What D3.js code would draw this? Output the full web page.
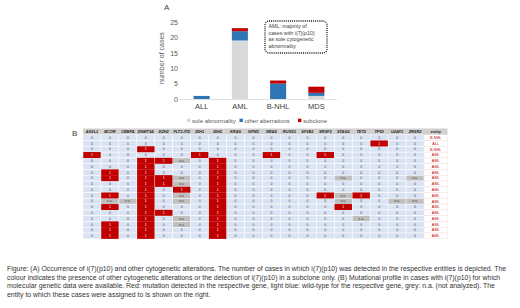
<!DOCTYPE html>
<html>
<head>
<meta charset="utf-8">
<script src="https://cdn.jsdelivr.net/npm/d3@7"></script>
<style>
  body { margin: 0; background: #fff; }
  svg { display: block; font-family: 'Liberation Sans', Arial, sans-serif; }
</style>
</head>
<body>
<svg id="chart"></svg>
<script>
// Panel A data
const categories = ['ALL', 'AML', 'B-NHL', 'MDS'];
const soleAbnormality = [0, 19, 0, 1];
const otherAberrations = [1, 3, 5, 1];
const subclone = [0, 1, 1, 2];
const yTicks = [0, 5, 10, 15, 20, 25];

// Panel B data
const genes = ['ASXL1', 'BCOR', 'CEBPA', 'DNMT3A', 'EZH2', 'FLT3-ITD', 'IDH1', 'IDH2', 'KRAS', 'NPM1',
  'NRAS', 'RUNX1', 'SF3B1', 'SRSF2', 'STAG2', 'TET2', 'TP53', 'U2AF1', 'ZRSR2'];
const entities = ['B-NHL', 'ALL', 'B-NHL', 'AML', 'AML', 'AML', 'AML', 'AML', 'AML', 'AML',
  'AML', 'AML', 'AML', 'AML', 'AML', 'AML', 'AML', 'AML'];
const N = 'n.a.';
const mutationRows = [
  [0,0,0,0,0,0,0,0,0,0,0,0,0,0,0,0,0,0,0],
  [0,0,0,0,0,0,0,0,0,0,0,0,0,0,0,0,1,0,0],
  [0,0,0,1,0,0,0,0,0,0,0,0,0,0,0,0,0,0,0],
  [1,0,0,0,0,0,1,0,0,0,1,0,0,1,0,0,0,0,0],
  [0,0,0,1,1,N,0,1,0,0,0,0,0,0,0,0,0,0,0],
  [0,0,0,1,0,0,0,1,0,0,0,0,0,0,0,0,0,0,0],
  [0,1,0,1,0,0,0,1,0,0,0,0,0,0,0,0,0,0,0],
  [0,1,0,1,1,N,0,1,0,0,0,0,0,0,N,0,0,0,N],
  [0,0,0,1,1,N,0,1,0,0,0,0,0,0,0,0,0,0,0],
  [0,0,0,1,0,1,0,1,0,0,0,0,0,0,0,0,0,0,0],
  [0,1,0,1,0,N,0,1,0,0,0,0,0,1,N,1,0,0,0],
  [0,N,N,1,0,N,0,1,0,0,0,0,0,0,N,0,0,N,N],
  [0,1,0,1,0,0,0,1,0,0,0,0,0,0,1,0,0,0,0],
  [0,0,0,1,1,0,0,1,0,0,0,0,0,0,0,0,0,0,0],
  [0,0,0,1,0,N,0,1,0,0,0,0,0,0,0,N,0,0,0],
  [0,1,0,1,0,N,0,1,0,0,0,0,0,0,0,0,0,0,0],
  [0,1,0,1,0,0,0,1,0,0,0,0,0,0,0,0,0,0,0],
  [0,1,0,1,0,0,0,1,0,0,0,0,0,0,0,0,0,0,0]
];

const captionLines = [
  'Figure: (A) Occurrence of i(7)(p10) and other cytogenetic alterations. The number of cases in which i(7)(p10) was detected in the respective entities is depicted. The',
  'colour indicates the presence of other cytogenetic alterations or the detection of i(7)(p10) in a subclone only. (B) Mutational profile in cases with i(7)(p10) for which',
  'molecular genetic data were available. Red: mutation detected in the respective gene, light blue: wild-type for the respective gene, grey: n.a. (not analyzed). The',
  'entity to which these cases were assigned to is shown on the right.'
];

const colors = { sole: '#d9d9d9', other: '#2e75b6', subclone: '#c00000' };
const W = 520, H = 308;

const svg = d3.select('#chart').attr('width', W).attr('height', H);
svg.append('rect').attr('width', W).attr('height', H).attr('fill', '#fff');

// ---------- Panel A ----------
const x = d3.scaleBand().domain(categories).range([181, 337]).paddingInner(0.58).paddingOuter(0.33);
const y = d3.scaleLinear().domain([0, 25]).range([99, 22]);

svg.append('text').attr('x', 164).attr('y', 10).attr('font-size', '8px').attr('fill', '#404040').text('A');

const table = categories.map((c, i) => ({ cat: c, sole: soleAbnormality[i], other: otherAberrations[i], subclone: subclone[i] }));
const stack = d3.stack().keys(['sole', 'other', 'subclone']);

svg.append('g').selectAll('g')
  .data(stack(table))
  .enter().append('g')
  .attr('fill', d => colors[d.key])
  .selectAll('rect')
  .data(d => d)
  .enter().append('rect')
  .attr('x', d => x(d.data.cat))
  .attr('width', x.bandwidth())
  .attr('y', d => y(d[1]))
  .attr('height', d => Math.max(0, y(d[0]) - y(d[1])));

// baseline
svg.append('line').attr('x1', 180).attr('x2', 337).attr('y1', y(0) + 0.5).attr('y2', y(0) + 0.5)
  .attr('stroke', '#d9d9d9').attr('stroke-width', 0.8);

const yAxis = svg.append('g').attr('transform', 'translate(181,0)')
  .call(d3.axisLeft(y).tickValues(yTicks).tickSize(0).tickPadding(3));
yAxis.select('.domain').remove();
yAxis.selectAll('text').attr('font-size', '7px').attr('fill', '#595959').attr('font-family', 'Liberation Sans, Arial, sans-serif');

const xAxis = svg.append('g').attr('transform', `translate(0,${y(0)})`)
  .call(d3.axisBottom(x).tickSize(0).tickPadding(5));
xAxis.select('.domain').remove();
xAxis.selectAll('text').attr('font-size', '7.5px').attr('fill', '#404040').attr('font-family', 'Liberation Sans, Arial, sans-serif');

svg.append('text').attr('transform', 'rotate(-90)').attr('x', -58).attr('y', 164)
  .attr('text-anchor', 'middle').attr('font-size', '7px').attr('fill', '#595959').text('number of cases');

// legend
const legend = [
  { key: 'sole', label: 'sole abnormality', x: 187 },
  { key: 'other', label: 'other aberrations', x: 239.5 },
  { key: 'subclone', label: 'subclone', x: 298 }
];
const lg = svg.append('g').selectAll('g').data(legend).enter().append('g')
  .attr('transform', d => `translate(${d.x},120.5)`);
lg.append('rect').attr('x', 0).attr('y', -1.8).attr('width', 3.4).attr('height', 3.4).attr('fill', d => colors[d.key]);
lg.append('text').attr('x', 5).attr('y', 2).attr('font-size', '6px').attr('fill', '#595959').text(d => d.label);

// annotation box
svg.append('rect').attr('x', 265).attr('y', 21).attr('width', 62).attr('height', 32).attr('rx', 4)
  .attr('fill', '#fff').attr('stroke', '#111').attr('stroke-width', 1.3).attr('stroke-dasharray', '1,1.1');
const note = ['AML: majority of', 'cases with i(7)(p10)', 'as sole cytogenetic', 'abnormality'];
svg.append('g').selectAll('text').data(note).enter().append('text')
  .attr('x', 268.5).attr('y', (d, i) => 28 + i * 6.6)
  .attr('font-size', '5.3px').attr('fill', '#404040').text(d => d);

// ---------- Panel B ----------
svg.append('text').attr('x', 72).attr('y', 136).attr('font-size', '8px').attr('fill', '#404040').text('B');

const gx = d3.scaleBand().domain(genes).range([83, 424]);
const ry = d3.scaleBand().domain(d3.range(mutationRows.length)).range([134.8, 238.8]);
const entX = 424, entW = 23.5;
const headTop = 128.5, headH = 134.8 - 128.5;

// header
const head = svg.append('g');
head.append('rect').attr('x', 83).attr('y', headTop).attr('width', entX + entW - 83).attr('height', headH).attr('fill', '#d0d0d0');
head.selectAll('text.g').data(genes).enter().append('text')
  .attr('x', d => gx(d) + gx.bandwidth() / 2).attr('y', headTop + headH / 2 + 1.4)
  .attr('text-anchor', 'middle').attr('font-size', '3.9px').attr('font-weight', 'bold').attr('font-style', 'italic')
  .attr('fill', '#222').text(d => d);
head.append('text').attr('x', entX + entW / 2).attr('y', headTop + headH / 2 + 1.4)
  .attr('text-anchor', 'middle').attr('font-size', '3.9px').attr('font-weight', 'bold').attr('fill', '#222').text('entity');

// cells
const cells = [];
mutationRows.forEach((row, r) => row.forEach((v, c) => cells.push({ r, gene: genes[c], v })));
const fillFor = v => v === 1 ? colors.subclone : v === N ? '#bfbfbf' : '#dae3f3';

const body = svg.append('g');
body.selectAll('rect.base').data(cells.filter(d => d.v !== 1)).enter().append('rect')
  .attr('x', d => gx(d.gene)).attr('y', d => ry(d.r))
  .attr('width', gx.bandwidth()).attr('height', ry.bandwidth())
  .attr('fill', d => fillFor(d.v)).attr('stroke', '#fff').attr('stroke-width', 0.5);
body.selectAll('rect.mut').data(cells.filter(d => d.v === 1)).enter().append('rect')
  .attr('x', d => gx(d.gene) + 0.25).attr('y', d => ry(d.r) - 0.1)
  .attr('width', gx.bandwidth() - 0.5).attr('height', ry.bandwidth() + 0.2)
  .attr('fill', colors.subclone);
body.selectAll('text').data(cells).enter().append('text')
  .attr('x', d => gx(d.gene) + gx.bandwidth() / 2).attr('y', d => ry(d.r) + ry.bandwidth() / 2 + 1.2)
  .attr('text-anchor', 'middle').attr('font-size', '3.4px')
  .attr('fill', d => d.v === 1 ? '#fff' : '#444')
  .text(d => d.v);

// entity column
const ent = svg.append('g');
ent.selectAll('rect').data(entities).enter().append('rect')
  .attr('x', entX).attr('y', (d, i) => ry(i)).attr('width', entW).attr('height', ry.bandwidth())
  .attr('fill', '#fff').attr('stroke', '#f2d4d4').attr('stroke-width', 0.4);
ent.selectAll('text').data(entities).enter().append('text')
  .attr('x', entX + entW / 2).attr('y', (d, i) => ry(i) + ry.bandwidth() / 2 + 1.3)
  .attr('text-anchor', 'middle').attr('font-size', '3.8px').attr('fill', '#c00000').text(d => d);

// ---------- Caption ----------
svg.append('g').selectAll('text').data(captionLines).enter().append('text')
  .attr('x', 7).attr('y', (d, i) => 271 + i * 8.6)
  .attr('font-size', '6.9px').attr('fill', '#333')
  .text(d => d);
</script>
</body>
</html>
